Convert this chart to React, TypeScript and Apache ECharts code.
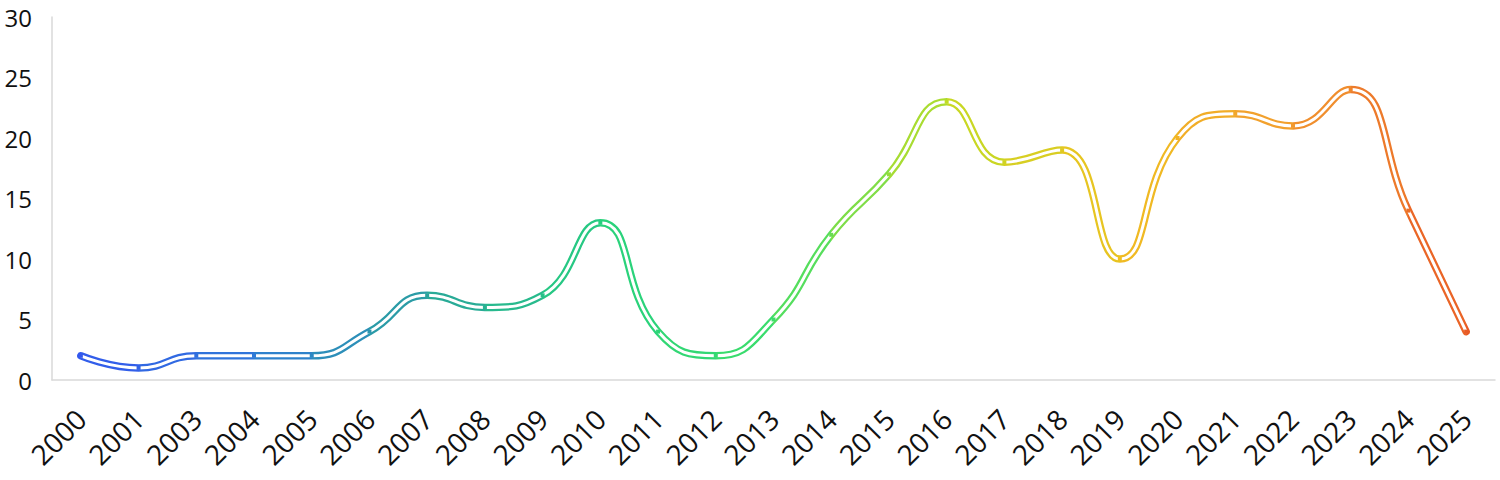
import React, { useEffect, useRef } from "react";
import * as echarts from "echarts";

const years = ["2000","2001","2003","2004","2005","2006","2007","2008","2009","2010","2011","2012","2013","2014","2015","2016","2017","2018","2019","2020","2021","2022","2023","2024","2025"];
const counts = [2,1,2,2,2,4,7,6,7,13,4,2,5,12,17,23,18,19,10,20,22,21,24,14,4];
const yTicks = { min: 0, max: 30, interval: 5 };
const gradientColors = ["#3358ee","#2f7ad6","#2aa39c","#26d07e","#3ede6a","#c0dc25","#f0c020","#f29a30","#e85a25"];

export default function App() {
  const ref = useRef<HTMLDivElement>(null);
  useEffect(() => {
    const chart = echarts.init(ref.current!, null, { renderer: "svg" });
    const font = "'Open Sans', 'Noto Sans', sans-serif";
    chart.setOption({
      animation: false,
      grid: { left: 52, right: 5, top: 17, bottom: 100, containLabel: false },
      visualMap: {
        show: false,
        type: "continuous",
        dimension: 0,
        min: 0,
        max: years.length - 1,
        seriesIndex: [0, 2],
        inRange: { color: gradientColors },
      },
      xAxis: {
        type: "category",
        data: years,
        boundaryGap: true,
        axisLine: { show: true, lineStyle: { color: "#d9d9d9", width: 1.5 } },
        axisTick: { show: false },
        axisLabel: { rotate: 45, fontSize: 28, color: "#111", fontFamily: font, margin: 34, interval: 0 },
      },
      yAxis: {
        type: "value",
        min: yTicks.min,
        max: yTicks.max,
        interval: yTicks.interval,
        axisLine: { show: true, lineStyle: { color: "#d9d9d9", width: 1.5 } },
        axisTick: { show: false },
        splitLine: { show: false },
        axisLabel: { fontSize: 24, color: "#111", fontFamily: font, margin: 20 },
      },
      series: [
        {
          type: "line",
          data: counts,
          smooth: 0.5,
          showSymbol: false,
          lineStyle: { width: 7.5, cap: "round", join: "round" },
          z: 1,
        },
        {
          type: "line",
          data: counts,
          smooth: 0.5,
          showSymbol: false,
          lineStyle: { width: 3, color: "#ffffff", cap: "round" },
          itemStyle: { color: "#ffffff" },
          z: 2,
        },
        {
          type: "line",
          data: counts,
          smooth: 0.5,
          showSymbol: true,
          symbol: "rect",
          symbolSize: [4, 4],
          lineStyle: { width: 0, opacity: 0 },
          z: 3,
        },
      ],
    });
    return () => chart.dispose();
  }, []);
  return <div ref={ref} style={{ width: 1500, height: 480, position: "absolute", left: 0, top: 0, background: "#fff" }} />;
}
